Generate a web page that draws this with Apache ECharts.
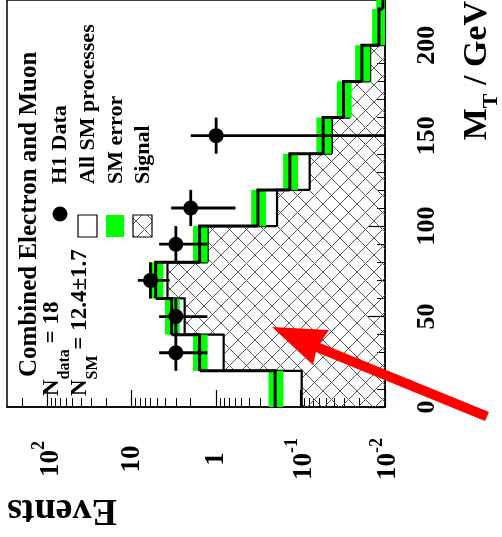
<!DOCTYPE html>
<html>
<head>
<meta charset="utf-8">
<script src="https://cdn.jsdelivr.net/npm/echarts@6/dist/echarts.min.js"></script>
<style>
  html, body { margin: 0; padding: 0; background: #ffffff; }
  #chart { width: 502px; height: 537px; }
</style>
</head>
<body>
<div id="chart"></div>
<script>
// Transverse mass spectrum of the combined electron + muon channels.
// M_T runs vertically (GeV), the number of events horizontally on a log scale.

const binLowEdges = [0, 20, 40, 60, 80, 100, 120, 140, 160, 180, 200, 220];
const binWidth = 20;
const smTotal   = [0.20, 1.57, 3.37, 5.2, 1.57, 0.32, 0.134, 0.054, 0.031, 0.0188, 0.0118, 0.0106];
const smError   = [0.04, 0.31, 0.67, 1.0, 0.31, 0.064, 0.027, 0.011, 0.0062, 0.0038, 0.0024, 0.0021];
const signalW   = [0.097, 0.815, 2.36, 3.77, 1.26, 0.19, 0.078, 0.0426, 0.026, 0.015, 0.0105, 0.009];

const dataMT     = [30, 50, 70, 90, 110, 150];
const dataEvents = [3, 3, 6, 3, 2, 1];
const dataError  = [1.73, 1.73, 2.45, 1.73, 1.41, 1.0];

const eventTicks = [0.01, 0.1, 1, 10, 100];
const eventMinorTicks = [0.02, 0.03, 0.04, 0.05, 0.06, 0.07, 0.08, 0.09,
                         0.2, 0.3, 0.4, 0.5, 0.6, 0.7, 0.8, 0.9,
                         2, 3, 4, 5, 6, 7, 8, 9,
                         20, 30, 40, 50, 60, 70, 80, 90, 200];
const mtTicks = [0, 50, 100, 150, 200];
const mtMinorTicks = [10, 20, 30, 40, 60, 70, 80, 90, 110, 120, 130, 140, 160, 170, 180, 190, 210, 220];

const EV_MIN = 0.01, EV_MAX = 300, MT_MIN = 0, MT_MAX = 225;

const SERIF = "'Liberation Serif', 'DejaVu Serif', 'Times New Roman', serif";
const GREEN = '#00ff00';

// cross-hatch tile used for the signal histogram
const TILE = 17;
const tile = document.createElement('canvas');
tile.width = TILE; tile.height = TILE;
(function () {
  const g = tile.getContext('2d');
  g.strokeStyle = '#5a5a5a';
  g.lineWidth = 1;
  g.beginPath();
  g.moveTo(0, 0); g.lineTo(TILE, TILE);
  g.moveTo(TILE, 0); g.lineTo(0, TILE);
  g.stroke();
})();
const hatch = { image: tile, repeat: 'repeat' };

const chart = echarts.init(document.getElementById('chart'), null, { renderer: 'canvas' });

function gridRect(params) {
  const c = params.coordSys;
  return { x: c.x, y: c.y, width: c.width, height: c.height };
}

// hatched signal boxes, from the axis floor up to the signal value
function renderSignal(params, api) {
  const lo = api.value(0), v = api.value(1);
  const a = api.coord([v, lo + binWidth]);
  const b = api.coord([EV_MIN, lo]);
  const shape = echarts.graphic.clipRectByRect(
    { x: a[0], y: a[1], width: b[0] - a[0], height: b[1] - a[1] }, gridRect(params));
  if (!shape) return null;
  return { type: 'rect', shape, style: { fill: hatch, stroke: null } };
}

// step outline: value edge of a bin plus the connector to the next bin
function stepRenderer(color, width) {
  return function (params, api) {
    const lo = api.value(0), v = api.value(1), vn = api.value(2);
    const pts = [api.coord([v, lo]), api.coord([v, lo + binWidth])];
    if (!isNaN(vn)) pts.push(api.coord([Math.max(vn, EV_MIN * 0.5), lo + binWidth]));
    const clipped = echarts.graphic.clipPointsByRect(pts, gridRect(params));
    return { type: 'polyline', shape: { points: clipped },
             style: { stroke: color, lineWidth: width, fill: null } };
  };
}

function renderBand(params, api) {
  const lo = api.value(0), v = api.value(1), e = api.value(2);
  const a = api.coord([v + e, lo + binWidth]);
  const b = api.coord([Math.max(v - e, EV_MIN * 0.5), lo]);
  const shape = echarts.graphic.clipRectByRect(
    { x: a[0], y: a[1], width: b[0] - a[0], height: b[1] - a[1] }, gridRect(params));
  if (!shape) return null;
  return { type: 'rect', shape, style: { fill: GREEN } };
}

function renderData(params, api) {
  const mt = api.value(0), n = api.value(1), e = api.value(2);
  const c = api.coord([n, mt]);
  const left = api.coord([n + e, mt]);
  const right = api.coord([Math.max(n - e, EV_MIN), mt]);
  const top = api.coord([n, mt + binWidth / 2]);
  const bot = api.coord([n, mt - binWidth / 2]);
  const ls = { stroke: '#000', lineWidth: 2.8 };
  return {
    type: 'group',
    children: [
      { type: 'line', shape: { x1: left[0], y1: c[1], x2: right[0], y2: c[1] }, style: ls },
      { type: 'line', shape: { x1: c[0], y1: top[1], x2: c[0], y2: bot[1] }, style: ls },
      { type: 'circle', shape: { cx: c[0], cy: c[1], r: 7.5 }, style: { fill: '#000' } }
    ]
  };
}

const signalRows = binLowEdges.map((lo, i) => [lo, signalW[i]]);
const signalSteps = binLowEdges.map((lo, i) => [lo, signalW[i], i + 1 < signalW.length ? signalW[i + 1] : NaN]);
const smSteps = binLowEdges.map((lo, i) => [lo, smTotal[i], i + 1 < smTotal.length ? smTotal[i + 1] : NaN]);
const bandRows = binLowEdges.map((lo, i) => [lo, smTotal[i], smError[i]]);
const dataRows = dataMT.map((m, i) => [m, dataEvents[i], dataError[i]]);

function eventLabel(v) {
  const p = Math.round(Math.log10(v));
  if (p === 0) return '{b|1}';
  if (p === 1) return '{b|10}';
  return '{b|10}{s|' + p + '}';
}

const labelFont = { fontFamily: SERIF, fontWeight: 'bold', color: '#000' };

const option = {
  animation: false,
  backgroundColor: '#ffffff',
  grid: { left: 7, right: 117, top: 0, bottom: 130, show: true,
          borderColor: '#000', borderWidth: 1.5, backgroundColor: 'transparent' },
  xAxis: [
    {
      type: 'log', logBase: 10, min: EV_MIN, max: EV_MAX, inverse: true, position: 'bottom',
      axisLine: { show: true, lineStyle: { color: '#000', width: 1.5 } },
      axisTick: { show: true, inside: true, length: 17, customValues: eventTicks,
                  lineStyle: { color: '#000', width: 1.2 } },
      minorTick: { show: false },
      splitLine: { show: false },
      axisLabel: {
        show: true, customValues: eventTicks, rotate: 90, margin: 52,
        align: 'center', verticalAlign: 'middle',
        formatter: eventLabel,
        rich: {
          b: Object.assign({ fontSize: 27, verticalAlign: 'bottom' }, labelFont),
          s: Object.assign({ fontSize: 18, verticalAlign: 'bottom', padding: [0, 0, 16, 0] }, labelFont)
        }
      }
    },
    {
      type: 'log', logBase: 10, min: EV_MIN, max: EV_MAX, inverse: true, position: 'bottom',
      axisLine: { show: false },
      axisTick: { show: true, inside: true, length: 9, customValues: eventMinorTicks,
                  lineStyle: { color: '#000', width: 1 } },
      axisLabel: { show: false },
      splitLine: { show: false }
    }
  ],
  yAxis: [
    {
      type: 'value', min: MT_MIN, max: MT_MAX, position: 'right',
      axisLine: { show: true, lineStyle: { color: '#000', width: 1.5 } },
      axisTick: { show: true, inside: true, length: 17, customValues: mtTicks,
                  lineStyle: { color: '#000', width: 1.2 } },
      splitLine: { show: false },
      axisLabel: {
        show: true, customValues: mtTicks, rotate: 90, margin: 42,
        align: 'center', verticalAlign: 'middle',
        fontSize: 26, fontFamily: SERIF, fontWeight: 'bold', color: '#000'
      }
    },
    {
      type: 'value', min: MT_MIN, max: MT_MAX, position: 'right',
      axisLine: { show: false },
      axisTick: { show: true, inside: true, length: 8, customValues: mtMinorTicks,
                  lineStyle: { color: '#000', width: 1 } },
      axisLabel: { show: false },
      splitLine: { show: false }
    }
  ],
  series: [
    { type: 'custom', name: 'Signal', renderItem: renderSignal, data: signalRows, z: 1,
      encode: { x: 1, y: 0 } },
    { type: 'custom', name: 'Signal outline', renderItem: stepRenderer('#000', 2.2), data: signalSteps, z: 2,
      encode: { x: 1, y: 0 } },
    { type: 'custom', name: 'SM error', renderItem: renderBand, data: bandRows, z: 3,
      encode: { x: 1, y: 0 } },
    { type: 'custom', name: 'All SM processes', renderItem: stepRenderer('#000', 3), data: smSteps, z: 4,
      encode: { x: 1, y: 0 } },
    { type: 'custom', name: 'H1 Data', renderItem: renderData, data: dataRows, z: 5,
      encode: { x: 1, y: 0 } }
  ],
  graphic: [
    // legend block, written along the vertical direction
    { type: 'text', x: 30, y: 377, rotation: Math.PI / 2, z: 10,
      style: { text: 'Combined Electron and Muon', font: 'bold 25px ' + SERIF,
               fill: '#000', textAlign: 'left', textVerticalAlign: 'middle' } },
    { type: 'text', x: 57, y: 396, rotation: Math.PI / 2, z: 10,
      style: { text: '{n|N}{d|data}{n| = 18}', textAlign: 'left', textVerticalAlign: 'middle',
               rich: { n: { font: 'bold 23px ' + SERIF, fill: '#000', verticalAlign: 'top' },
                       d: { font: 'bold 16px ' + SERIF, fill: '#000', verticalAlign: 'top', padding: [16, 0, 0, 0] } } } },
    { type: 'text', x: 85, y: 396, rotation: Math.PI / 2, z: 10,
      style: { text: '{n|N}{d|SM}{n| = 12.4\u00b11.7}', textAlign: 'left', textVerticalAlign: 'middle',
               rich: { n: { font: 'bold 23px ' + SERIF, fill: '#000', verticalAlign: 'top' },
                       d: { font: 'bold 16px ' + SERIF, fill: '#000', verticalAlign: 'top', padding: [16, 0, 0, 0] } } } },
    { type: 'circle', shape: { cx: 60, cy: 214, r: 7.5 }, style: { fill: '#000' }, z: 10 },
    { type: 'rect', shape: { x: 78, y: 215, width: 19, height: 22 }, style: { fill: '#fff', stroke: '#000', lineWidth: 1.2 }, z: 10 },
    { type: 'rect', shape: { x: 106, y: 215, width: 18, height: 22 }, style: { fill: GREEN, stroke: null }, z: 10 },
    { type: 'rect', shape: { x: 133, y: 215, width: 19, height: 22 }, style: { fill: hatch, stroke: '#000', lineWidth: 1.2 }, z: 10 },
    { type: 'text', x: 60, y: 184, rotation: Math.PI / 2, z: 10,
      style: { text: 'H1 Data', font: 'bold 22px ' + SERIF, fill: '#000', textAlign: 'left', textVerticalAlign: 'middle' } },
    { type: 'text', x: 88, y: 184, rotation: Math.PI / 2, z: 10,
      style: { text: 'All SM processes', font: 'bold 22px ' + SERIF, fill: '#000', textAlign: 'left', textVerticalAlign: 'middle' } },
    { type: 'text', x: 116, y: 184, rotation: Math.PI / 2, z: 10,
      style: { text: 'SM error', font: 'bold 22px ' + SERIF, fill: '#000', textAlign: 'left', textVerticalAlign: 'middle' } },
    { type: 'text', x: 143, y: 184, rotation: Math.PI / 2, z: 10,
      style: { text: 'Signal', font: 'bold 22px ' + SERIF, fill: '#000', textAlign: 'left', textVerticalAlign: 'middle' } },
    // axis titles
    { type: 'text', x: 62, y: 510, rotation: Math.PI, z: 10,
      style: { text: 'Events', font: 'bold 38px ' + SERIF, fill: '#000', textAlign: 'center', textVerticalAlign: 'middle' } },
    { type: 'text', x: 481, y: 1, rotation: Math.PI / 2, z: 10,
      style: { text: '{m|M}{t|T}{m| / GeV}', textAlign: 'right', textVerticalAlign: 'middle',
               rich: { m: { font: 'bold 34px ' + SERIF, fill: '#000', verticalAlign: 'top' },
                       t: { font: 'bold 22px ' + SERIF, fill: '#000', verticalAlign: 'top', padding: [20, 0, 0, 0] } } } },
    // red pointer onto the signal region
    { type: 'polygon', z: 10,
      shape: { points: [[272, 327], [329, 330], [320, 343], [489, 412], [485, 421], [316, 352], [313, 365]] },
      style: { fill: '#ff0000' } }
  ]
};

chart.setOption(option);
</script>
</body>
</html>
